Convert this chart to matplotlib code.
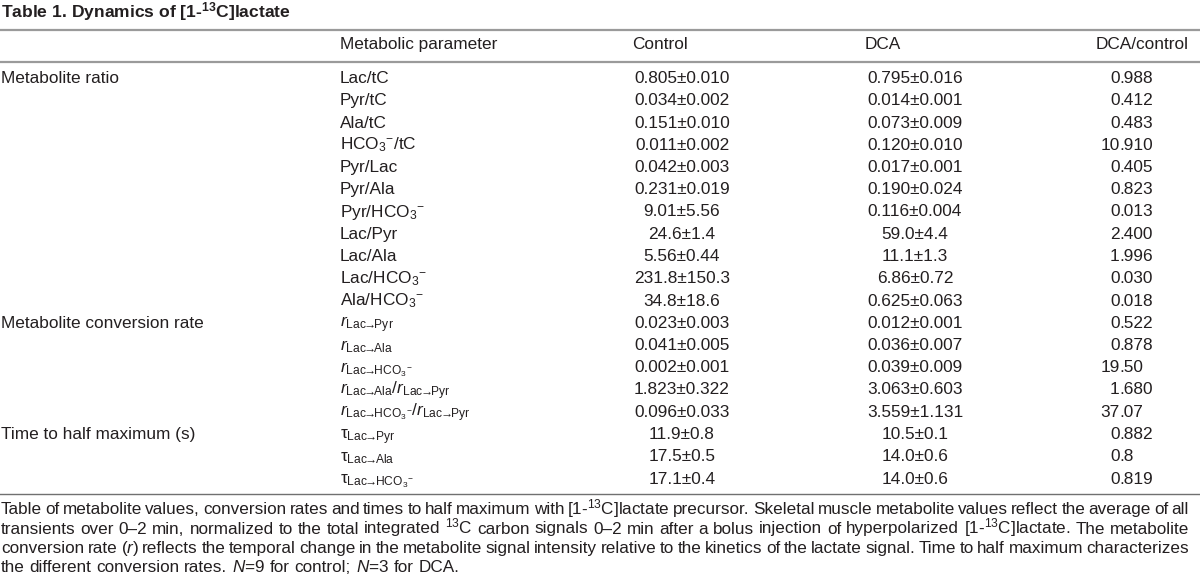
import matplotlib
matplotlib.use("Agg")
import matplotlib.pyplot as plt

plt.rcParams['font.family'] = ['Liberation Sans', 'DejaVu Sans']
plt.rcParams['mathtext.fontset'] = 'custom'
plt.rcParams['mathtext.rm'] = 'Liberation Sans'
plt.rcParams['mathtext.it'] = 'Liberation Sans:italic'
plt.rcParams['mathtext.bf'] = 'Liberation Sans:bold'
plt.rcParams['mathtext.default'] = 'regular'

HCO3 = r'HCO$_3{}^{-}$'
ARR = r'\!→\!'

title = r'Table 1. Dynamics of [1-$^{\mathbf{13}}$C]lactate'
headers = ["Metabolic parameter", "Control", "DCA", "DCA/control"]
section_labels = ["Metabolite ratio", "Metabolite conversion rate", "Time to half maximum (s)"]
section_start = [0, 11, 16]

parameters = [
    "Lac/tC", "Pyr/tC", "Ala/tC", HCO3 + "/tC", "Pyr/Lac", "Pyr/Ala",
    "Pyr/" + HCO3, "Lac/Pyr", "Lac/Ala", "Lac/" + HCO3, "Ala/" + HCO3,
    r'$\mathit{r}_{Lac' + ARR + r'Pyr}$',
    r'$\mathit{r}_{Lac' + ARR + r'Ala}$',
    r'$\mathit{r}_{Lac' + ARR + r'HCO_3{}^{-}}$',
    r'$\mathit{r}_{Lac' + ARR + r'Ala}$/$\mathit{r}_{Lac' + ARR + r'Pyr}$',
    r'$\mathit{r}_{Lac' + ARR + r'HCO_3{}^{-}}$/$\mathit{r}_{Lac' + ARR + r'Pyr}$',
    r'$τ_{Lac' + ARR + r'Pyr}$',
    r'$τ_{Lac' + ARR + r'Ala}$',
    r'$τ_{Lac' + ARR + r'HCO_3{}^{-}}$',
]
control = [
    "0.805±0.010", "0.034±0.002", "0.151±0.010", "0.011±0.002", "0.042±0.003",
    "0.231±0.019", "9.01±5.56", "24.6±1.4", "5.56±0.44", "231.8±150.3",
    "34.8±18.6", "0.023±0.003", "0.041±0.005", "0.002±0.001", "1.823±0.322",
    "0.096±0.033", "11.9±0.8", "17.5±0.5", "17.1±0.4",
]
dca = [
    "0.795±0.016", "0.014±0.001", "0.073±0.009", "0.120±0.010", "0.017±0.001",
    "0.190±0.024", "0.116±0.004", "59.0±4.4", "11.1±1.3", "6.86±0.72",
    "0.625±0.063", "0.012±0.001", "0.036±0.007", "0.039±0.009", "3.063±0.603",
    "3.559±1.131", "10.5±0.1", "14.0±0.6", "14.0±0.6",
]
dca_over_control = [
    "0.988", "0.412", "0.483", "10.910", "0.405", "0.823", "0.013", "2.400",
    "1.996", "0.030", "0.018", "0.522", "0.878", "19.50", "1.680", "37.07",
    "0.882", "0.8", "0.819",
]
footnote = [
    r'Table of metabolite values, conversion rates and times to half maximum with [1-$^{13}$C]lactate precursor. Skeletal muscle metabolite values reflect the average of all',
    r'transients over 0–2 min, normalized to the total integrated $^{13}$C carbon signals 0–2 min after a bolus injection of hyperpolarized [1-$^{13}$C]lactate. The metabolite',
    r'conversion rate ($\mathit{r}$) reflects the temporal change in the metabolite signal intensity relative to the kinetics of the lactate signal. Time to half maximum characterizes',
    r'the different conversion rates. $\mathit{N}$=9 for control; $\mathit{N}$=3 for DCA.',
]

W, H = 1200, 581
fig = plt.figure(figsize=(W / 100, H / 100), dpi=100)
ax = fig.add_axes([0, 0, 1, 1])
ax.set_xlim(0, W)
ax.set_ylim(H, 0)
ax.axis('off')

fs = 12.4
col = '#231f20'
rule = '#9a9a9a'

ax.text(1, 17.5, title, fontsize=12.6, fontweight='bold', color=col, va='baseline')

ax.plot([0, W], [30, 30], color=rule, lw=1.6)
ax.plot([0, W], [62, 62], color=rule, lw=1.6)
ax.plot([0, W], [493.5, 493.5], color='#707070', lw=1.0)

hy = 49
ax.text(340, hy, headers[0], fontsize=fs, color=col, va='baseline')
ax.text(632, hy, headers[1], fontsize=fs, color=col, va='baseline')
ax.text(865, hy, headers[2], fontsize=fs, color=col, va='baseline')
ax.text(1189, hy, headers[3], fontsize=fs, color=col, va='baseline', ha='right')

y0, dy = 83, 22.25
for lab, s in zip(section_labels, section_start):
    ax.text(1, y0 + dy * s, lab, fontsize=fs, color=col, va='baseline')

dot_x = 1119.5
for i in range(len(parameters)):
    y = y0 + dy * i
    ax.text(340, y, parameters[i], fontsize=fs, color=col, va='baseline')
    ax.text(682, y, control[i], fontsize=fs, color=col, va='baseline', ha='center')
    ax.text(915, y, dca[i], fontsize=fs, color=col, va='baseline', ha='center')
    whole, frac = dca_over_control[i].split('.')
    ax.text(dot_x, y, whole, fontsize=fs, color=col, va='baseline', ha='right')
    ax.text(dot_x, y, '.' + frac, fontsize=fs, color=col, va='baseline', ha='left')

# justified caption
renderer = fig.canvas.get_renderer()
left, right = 1, 1189
ffs = 12.3
sp = ax.text(0, 0, 'a a', fontsize=ffs)
sp2 = ax.text(0, 0, 'aa', fontsize=ffs)
space = sp.get_window_extent(renderer).width - sp2.get_window_extent(renderer).width
sp.remove()
sp2.remove()
for k, line in enumerate(footnote):
    y = 514 + 19.5 * k
    words = line.split(' ')
    texts = [ax.text(0, y, w, fontsize=ffs, color=col, va='baseline') for w in words]
    widths = [t.get_window_extent(renderer).width for t in texts]
    if k < len(footnote) - 1:
        gap = (right - left - sum(widths)) / (len(words) - 1)
    else:
        gap = space
    x = left
    for t, w in zip(texts, widths):
        t.set_x(x)
        x += w + gap

fig.savefig('out.png', dpi=100, facecolor='white')
